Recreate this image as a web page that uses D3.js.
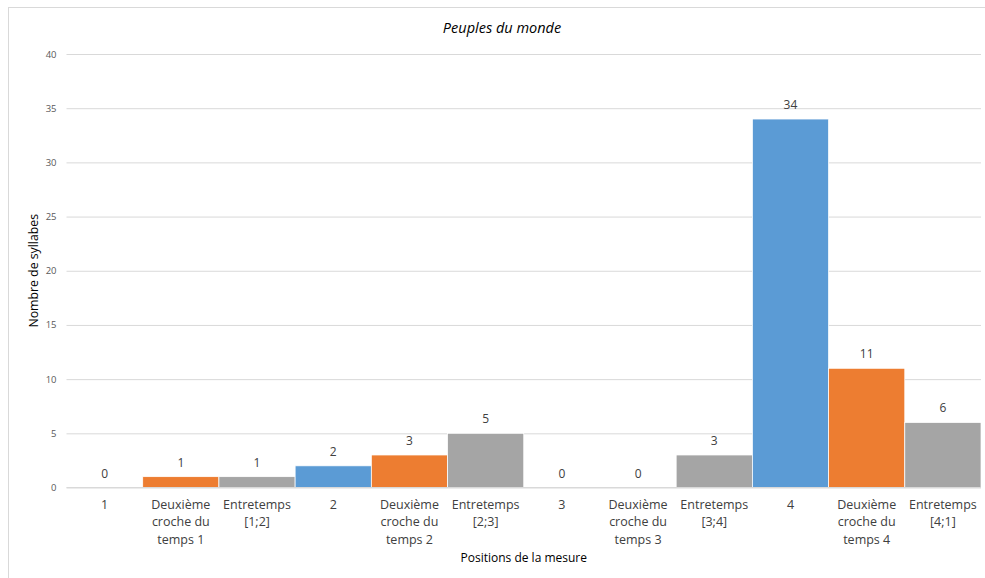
<!DOCTYPE html>
<html><head><meta charset="utf-8">
<script src="https://cdn.jsdelivr.net/npm/d3@7"></script>
<style>body{margin:0;background:#fff}svg{display:block}text{font-family:"Open Sans","Noto Sans",sans-serif}</style>
</head><body><svg id="c" width="985" height="578"></svg>
<script>
const categories = [
  ["1"],
  ["Deuxième","croche du","temps 1"],
  ["Entretemps","[1;2]"],
  ["2"],
  ["Deuxième","croche du","temps 2"],
  ["Entretemps","[2;3]"],
  ["3"],
  ["Deuxième","croche du","temps 3"],
  ["Entretemps","[3;4]"],
  ["4"],
  ["Deuxième","croche du","temps 4"],
  ["Entretemps","[4;1]"]
];
const values = [0,1,1,2,3,5,0,0,3,34,11,6];
const seriesType = ["beat","eighth","between","beat","eighth","between","beat","eighth","between","beat","eighth","between"];
const yTicks = [0,5,10,15,20,25,30,35,40];
const title = "Peuples du monde";
const yTitle = "Nombre de syllabes";
const xTitle = "Positions de la mesure";

const colors = {beat:"#5B9BD5", eighth:"#ED7D31", between:"#A5A5A5"};
const svg = d3.select("#c");
const m = {l:66.5, r:981, t:54, b:487.5};

svg.append("rect").attr("x",8.5).attr("y",7.5).attr("width",990).attr("height",590)
  .attr("fill","#fff").attr("stroke","#d9d9d9").attr("stroke-width",1);

const x = d3.scaleBand().domain(d3.range(categories.length)).range([m.l,m.r]).padding(0);
const y = d3.scaleLinear().domain([0,40]).range([m.b,m.t]);

const ya = svg.append("g").attr("transform",`translate(${m.l},0)`)
  .call(d3.axisLeft(y).tickValues(yTicks).tickSize(-(m.r-m.l)).tickPadding(10));
ya.select(".domain").remove();
ya.selectAll(".tick line").attr("stroke","#d9d9d9").attr("stroke-width",1);
ya.selectAll(".tick text").attr("fill","#595959").style("font-size","9.5px").style("font-family","'Open Sans',sans-serif");

svg.append("g").selectAll("rect").data(values).join("rect")
  .attr("x",(d,i)=>x(i)).attr("width",x.bandwidth())
  .attr("y",d=>y(d)).attr("height",d=>y(0)-y(d))
  .attr("fill",(d,i)=>colors[seriesType[i]])
  .attr("stroke","#fff").attr("stroke-width",0.75);

svg.append("line").attr("x1",m.l).attr("x2",m.r).attr("y1",y(0)).attr("y2",y(0))
  .attr("stroke","#d9d9d9");

svg.append("g").selectAll("text").data(values).join("text")
  .attr("x",(d,i)=>x(i)+x.bandwidth()/2).attr("y",d=>y(d)-10)
  .attr("text-anchor","middle").attr("fill","#404040").style("font-size","12px")
  .text(d=>d);

const xl = svg.append("g");
categories.forEach((lines,i)=>{
  const t = xl.append("text").attr("text-anchor","middle").attr("fill","#404040").style("font-size","12.5px");
  lines.forEach((ln,j)=>{
    t.append("tspan").attr("x",x(i)+x.bandwidth()/2).attr("y",508.5+j*17.5).text(ln);
  });
});

svg.append("text").attr("x",502).attr("y",33).attr("text-anchor","middle")
  .attr("fill","#000").style("font-size","14.5px").style("font-style","italic").text(title);

svg.append("text").attr("transform",`translate(38,${(m.t+m.b)/2}) rotate(-90)`)
  .attr("text-anchor","middle").attr("fill","#000").style("font-size","12.3px").text(yTitle);

svg.append("text").attr("x",(m.l+m.r)/2).attr("y",562).attr("text-anchor","middle")
  .attr("fill","#000").style("font-size","12px").text(xTitle);
</script></body></html>
